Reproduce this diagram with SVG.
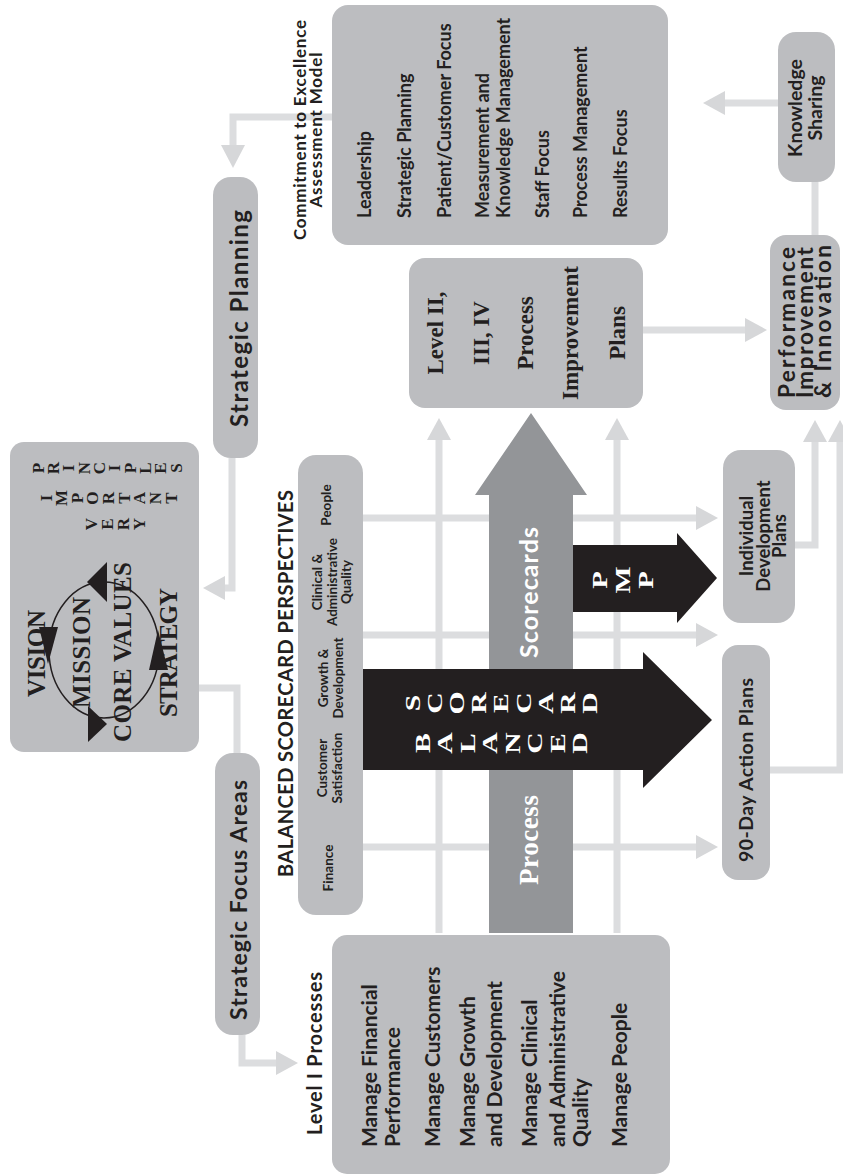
<svg xmlns="http://www.w3.org/2000/svg" width="843" height="1176" viewBox="0 0 843 1176">
<style>
.box{fill:#bcbdc0}
.ln{stroke:#dcdddf;stroke-width:7;fill:none}
.ah{fill:#d6d7d9}
.t{font-family:Lato,"Open Sans","DejaVu Sans",sans-serif;font-weight:700;fill:#231f20}
.sf{font-family:"Liberation Serif","DejaVu Serif",serif;fill:#231f20}
.w{fill:#ffffff}
.c{text-anchor:middle}
</style>
<rect width="843" height="1176" fill="#ffffff"/>
<g transform="translate(0,1176) rotate(-90)">
<g id="connectors">
<path class="ln" d="M141,242 L113,242 L113,278"/>
<polygon class="ah" points="113,298 101,276 125,276"/>
<path class="ln" d="M488,199 L488,237 L423,237"/>
<path class="ln" d="M718,232 L588,232 L588,224"/>
<polygon class="ah" points="588,203 576,225 600,225"/>
<path class="ln" d="M1059,332 L1059,233 L1029,233"/>
<polygon class="ah" points="1008,233 1031,221 1031,245"/>
<path class="ln" d="M329,363 L329,698"/>
<polygon class="ah" points="329,718 317,696 341,696"/>
<path class="ln" d="M541,363 L541,698"/>
<polygon class="ah" points="541,718 529,696 553,696"/>
<path class="ln" d="M658,363 L658,698"/>
<polygon class="ah" points="658,718 646,696 670,696"/>
<path class="ln" d="M243,439 L738,439"/>
<polygon class="ah" points="758,439 736,427 736,451"/>
<path class="ln" d="M243,617 L738,617"/>
<polygon class="ah" points="758,617 736,605 736,629"/>
<path class="ln" d="M846,643 L846,747"/>
<polygon class="ah" points="846,767 834,745 858,745"/>
<path class="ln" d="M631,795 L631,815 L736,815"/>
<polygon class="ah" points="756,815 734,803 734,827"/>
<path class="ln" d="M406,770 L406,840 L736,840"/>
<polygon class="ah" points="756,840 734,828 734,852"/>
<path class="ln" d="M941,815 L994,815"/>
<path class="ln" d="M1073,778 L1073,723"/>
<polygon class="ah" points="1073,703 1061,725 1085,725"/>
</g>
<g id="process-arrow">
<polygon fill="#939598" points="243,489 681,489 681,475 763,531 681,587 681,573 243,573"/>
<text class="sf w" x="291" y="538" font-size="27" font-weight="700" textLength="90">Process</text>
<text class="t w" x="518" y="538" font-size="25" textLength="131">Scorecards</text>
</g>
<g id="balanced-arrow">
<polygon fill="#231f20" points="406,363 406,643 388,643 456,712 524,643 507,643 507,363"/>
<g transform="translate(433,0) scale(1.35,1)">
<text class="sf w c" font-size="22" font-weight="700"><tspan x="0" y="430">B</tspan><tspan x="0" y="452">A</tspan><tspan x="0" y="475">L</tspan><tspan x="0" y="497">A</tspan><tspan x="0" y="520">N</tspan><tspan x="0" y="542">C</tspan><tspan x="0" y="565">E</tspan><tspan x="0" y="587">D</tspan></text>
</g>
<g transform="translate(473,0) scale(1.35,1)">
<text class="sf w c" font-size="22" font-weight="700"><tspan x="0" y="420">S</tspan><tspan x="0" y="442">C</tspan><tspan x="0" y="464">O</tspan><tspan x="0" y="486">R</tspan><tspan x="0" y="508">E</tspan><tspan x="0" y="531">C</tspan><tspan x="0" y="553">A</tspan><tspan x="0" y="575">R</tspan><tspan x="0" y="597">D</tspan></text>
</g>
</g>
<g id="pmp-arrow">
<polygon fill="#231f20" points="564,573 564,677 553,677 598,717 643,677 631,677 631,573"/>
<g transform="translate(596,0) scale(1.3,1)">
<text class="sf w c" font-size="22" font-weight="700"><tspan x="0" y="607">P</tspan><tspan x="0" y="630">M</tspan><tspan x="0" y="653">P</tspan></text>
</g>
</g>
<g id="level1">
<text class="t" x="41" y="322" font-size="20" textLength="163">Level I Processes</text>
<rect class="box" x="2" y="332" width="239" height="338" rx="15"/>
<text class="t" font-size="21"><tspan x="29" y="377">Manage Financial</tspan><tspan x="29" y="400">Performance</tspan><tspan x="29" y="440">Manage Customers</tspan><tspan x="29" y="475">Manage Growth</tspan><tspan x="29" y="502">and Development</tspan><tspan x="29" y="537">Manage Clinical</tspan><tspan x="29" y="565">and Administrative</tspan><tspan x="29" y="588">Quality</tspan><tspan x="29" y="627">Manage People</tspan></text>
</g>
<g id="strategic-focus">
<rect class="box" x="141" y="215" width="282" height="45" rx="18"/>
<text class="t" x="156" y="247" font-size="23" textLength="240">Strategic Focus Areas</text>
</g>
<g id="vision">
<rect class="box" x="424" y="10" width="310" height="189" rx="14"/>
<ellipse cx="526" cy="104" rx="68" ry="55" fill="none" stroke="#231f20" stroke-width="1.5"/>
<polygon fill="#231f20" points="549,39 549,58 512,48"/>
<polygon fill="#231f20" points="506,149 506,168 546,158"/>
<polygon fill="#231f20" points="574,107 614,107 594,87"/>
<polygon fill="#231f20" points="434,88 470,88 452,107"/>
<text class="sf" x="479" y="45" font-size="25" font-weight="700" textLength="87">VISION</text>
<text class="sf" x="468" y="90" font-size="25" font-weight="700" textLength="111">MISSION</text>
<text class="sf" x="434" y="131" font-size="25" font-weight="700" textLength="180">CORE VALUES</text>
<text class="sf" x="459" y="177" font-size="25" font-weight="700" textLength="129">STRATEGY</text>
<text class="sf c" font-size="17" font-weight="700"><tspan x="652" y="97">V</tspan><tspan x="652" y="113">E</tspan><tspan x="652" y="129">R</tspan><tspan x="652" y="145">Y</tspan></text>
<text class="sf c" font-size="17" font-weight="700"><tspan x="678" y="52">I</tspan><tspan x="678" y="67">M</tspan><tspan x="678" y="83">P</tspan><tspan x="678" y="98">O</tspan><tspan x="678" y="114">R</tspan><tspan x="678" y="130">T</tspan><tspan x="678" y="145">A</tspan><tspan x="678" y="161">N</tspan><tspan x="678" y="177">T</tspan></text>
<text class="sf c" font-size="17" font-weight="700"><tspan x="708" y="44">P</tspan><tspan x="708" y="59">R</tspan><tspan x="708" y="74">I</tspan><tspan x="708" y="90">N</tspan><tspan x="708" y="105">C</tspan><tspan x="708" y="120">I</tspan><tspan x="708" y="136">P</tspan><tspan x="708" y="151">L</tspan><tspan x="708" y="166">E</tspan><tspan x="708" y="182">S</tspan></text>
</g>
<g id="strategic-planning">
<rect class="box" x="718" y="213" width="281" height="45" rx="18"/>
<text class="t" x="749" y="248" font-size="24" textLength="217">Strategic Planning</text>
</g>
<g id="commitment">
<text class="t c" x="1046" y="306" font-size="17" textLength="220">Commitment to Excellence</text>
<text class="t c" x="1046" y="322" font-size="17" textLength="155">Assessment Model</text>
<rect class="box" x="931" y="332" width="240" height="336" rx="16"/>
<text class="t" font-size="18"><tspan x="958" y="371">Leadership</tspan><tspan x="958" y="411">Strategic Planning</tspan><tspan x="958" y="451">Patient/Customer Focus</tspan><tspan x="958" y="489">Measurement and</tspan><tspan x="958" y="510">Knowledge Management</tspan><tspan x="958" y="549">Staff Focus</tspan><tspan x="958" y="587">Process Management</tspan><tspan x="958" y="627">Results Focus</tspan></text>
</g>
<g id="level2">
<rect class="box" x="768" y="409" width="150" height="234" rx="16"/>
<text class="sf c" font-size="23" font-weight="700"><tspan x="843" y="443">Level II,</tspan><tspan x="843" y="489">III, IV</tspan><tspan x="843" y="533">Process</tspan><tspan x="843" y="578">Improvement</tspan><tspan x="843" y="625">Plans</tspan></text>
</g>
<g id="perspectives">
<text class="t" x="299" y="293" font-size="20" textLength="387">BALANCED SCORECARD PERSPECTIVES</text>
<rect class="box" x="261" y="298" width="460" height="65" rx="18"/>
<text class="t c" font-size="13.5"><tspan x="308" y="333">Finance</tspan></text>
<text class="t c" font-size="13.5"><tspan x="408" y="327">Customer</tspan><tspan x="408" y="342">Satisfaction</tspan></text>
<text class="t c" font-size="13.5"><tspan x="498" y="328">Growth &amp;</tspan><tspan x="498" y="343">Development</tspan></text>
<text class="t c" font-size="13.5"><tspan x="594" y="322">Clinical &amp;</tspan><tspan x="594" y="337">Administrative</tspan><tspan x="594" y="351">Quality</tspan></text>
<text class="t c" font-size="13.5"><tspan x="671" y="331">People</tspan></text>
</g>
<g id="idp">
<rect class="box" x="553" y="723" width="173" height="72" rx="18"/>
<text class="t c" font-size="18.5"><tspan x="640" y="753">Individual</tspan><tspan x="640" y="770">Development</tspan><tspan x="640" y="786">Plans</tspan></text>
</g>
<g id="ninety-day">
<rect class="box" x="296" y="722" width="235" height="48" rx="16"/>
<text class="t" x="314" y="753" font-size="19.5" textLength="184">90-Day Action Plans</text>
</g>
<g id="pii">
<rect class="box" x="766" y="770" width="175" height="70" rx="16"/>
<text class="t" x="778" y="795" font-size="22.5" textLength="151">Performance</text>
<text class="t" x="778" y="813" font-size="22.5" textLength="151">Improvement</text>
<text class="t" x="778" y="831" font-size="22.5" textLength="153">&amp; Innovation</text>
</g>
<g id="knowledge">
<rect class="box" x="994" y="778" width="150" height="57" rx="18"/>
<text class="t c" font-size="19.5"><tspan x="1068" y="802">Knowledge</tspan><tspan x="1068" y="822">Sharing</tspan></text>
</g>
</g>
</svg>
